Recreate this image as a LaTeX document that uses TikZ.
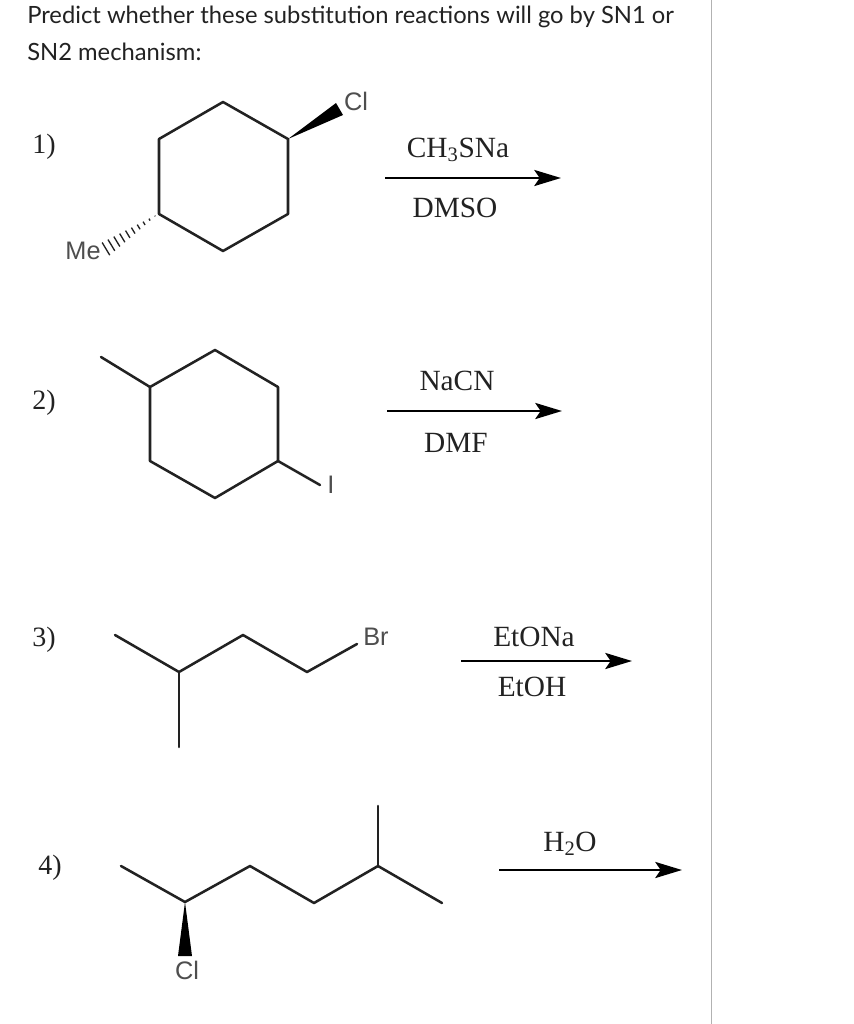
\documentclass[tikz,border=0pt]{standalone}
\usepackage{fontspec}
\setmainfont{Liberation Serif}
\newfontfamily\headfont{Lato}
\newfontfamily\atomfont{Liberation Sans}
\usetikzlibrary{arrows.meta}
\definecolor{inkc}{HTML}{222222}
\tikzset{
  x=0.75pt,y=-0.75pt,
  bond/.style={draw=inkc,line width=1.9pt,line cap=round,line join=round},
  wedge/.style={fill=black,draw=none},
  hashb/.style={draw=inkc,line width=1pt,line cap=butt},
  rxn/.style={draw=black,line width=2.1pt,-{Stealth[length=20pt,width=12pt,inset=4pt]}},
  atom/.style={inner sep=0pt,font=\atomfont\fontsize{19}{22}\selectfont,text=inkc!80},
  reag/.style={inner sep=0pt,font=\fontsize{22}{26}\selectfont,text=inkc},
  num/.style={inner sep=0pt,font=\fontsize{21}{26}\selectfont,text=inkc},
  head/.style={inner sep=0pt,anchor=base west,font=\headfont\fontsize{17.82}{22}\selectfont,text=inkc},
}
\begin{document}
\begin{tikzpicture}
\useasboundingbox (0,0) rectangle (853,1024);
\fill[white] (0,0) rectangle (853,1024);
\draw[draw=black!30,line width=0.7pt] (711,0) coordinate (fa) -- (711,1024) coordinate (fb);
\node[head] (h1) at (27,24) {Predict whether these substitution reactions will go by SN1 or};
\node[head] (h2) at (27,61) {SN2 mechanism:};
% labels
\node[num] (n1) at (44,147) {1)};
\node[num] (n2) at (44,403) {2)};
\node[num] (n3) at (44,640) {3)};
\node[num] (n4) at (50,868) {4)};
% molecule 1
\foreach \n/\p in {a/{223,102},b/{288,139},c/{288,214},d/{223,251},e/{159,214},f/{159,139}} \coordinate (m1\n) at (\p);
\draw[bond] (m1a)--(m1b)--(m1c)--(m1d)--(m1e)--(m1f)--cycle;
\coordinate (w1a) at (336,103); \coordinate (w1b) at (343,115);
\fill[wedge] (m1b)--(w1a)--(w1b)--cycle;
\node[atom] (cl1) at (356,101) {Cl};
\node[atom] (me) at (83,251) {Me};
\foreach \t in {0,...,9}{
  \pgfmathsetmacro\cx{155-\t*5.45}
  \pgfmathsetmacro\cy{216+\t*3.65}
  \pgfmathsetmacro\hl{0.4+\t*0.8}
  \draw[hashb] (\cx-\hl*0.5,\cy-\hl*0.83) -- (\cx+\hl*0.5,\cy+\hl*0.83);
}
% molecule 2
\foreach \n/\p in {a/{215,350},b/{278,387},c/{278,461},d/{215,498},e/{150,461},f/{150,387},g/{101,357},h/{320,485}} \coordinate (m2\n) at (\p);
\draw[bond] (m2a)--(m2b)--(m2c)--(m2d)--(m2e)--(m2f)--cycle;
\draw[bond] (m2f)--(m2g);
\draw[bond] (m2c)--(m2h);
\node[atom] (iod) at (331,485) {I};
% molecule 3
\foreach \n/\p in {a/{115,635},b/{179,672},c/{243,635},d/{307,672},e/{357,644},f/{179,747}} \coordinate (m3\n) at (\p);
\draw[bond] (m3a)--(m3b)--(m3c)--(m3d)--(m3e);
\draw[bond] (m3b)--(m3f);
\node[atom] (br) at (376,637) {Br};
% molecule 4
\foreach \n/\p in {a/{121,866},b/{185,902},c/{250,866},d/{314,903},e/{378,866},f/{378,806},g/{442,903}} \coordinate (m4\n) at (\p);
\draw[bond] (m4a)--(m4b)--(m4c)--(m4d)--(m4e)--(m4g);
\draw[bond] (m4e)--(m4f);
\coordinate (w4a) at (178,956); \coordinate (w4b) at (192,956);
\fill[wedge] (m4b)--(w4a)--(w4b)--cycle;
\node[atom] (cl4) at (187,970) {Cl};
% arrows
\coordinate (r1a) at (385,178); \coordinate (r1b) at (561,178);
\coordinate (r2a) at (387,411); \coordinate (r2b) at (562,411);
\coordinate (r3a) at (461,661); \coordinate (r3b) at (632,661);
\coordinate (r4a) at (499,870); \coordinate (r4b) at (682,870);
\draw[rxn] (r1a)--(r1b);
\draw[rxn] (r2a)--(r2b);
\draw[rxn] (r3a)--(r3b);
\draw[rxn] (r4a)--(r4b);
\node[reag] (t1) at (458,150) {CH\textsubscript{3}SNa};
\node[reag] (t2) at (455,208) {DMSO};
\node[reag] (t3) at (457,381) {NaCN};
\node[reag] (t4) at (456,443) {DMF};
\node[reag] (t5) at (534,637) {EtONa};
\node[reag] (t6) at (532,687) {EtOH};
\node[reag] (t7) at (570,844) {H\textsubscript{2}O};
\end{tikzpicture}
\end{document}
